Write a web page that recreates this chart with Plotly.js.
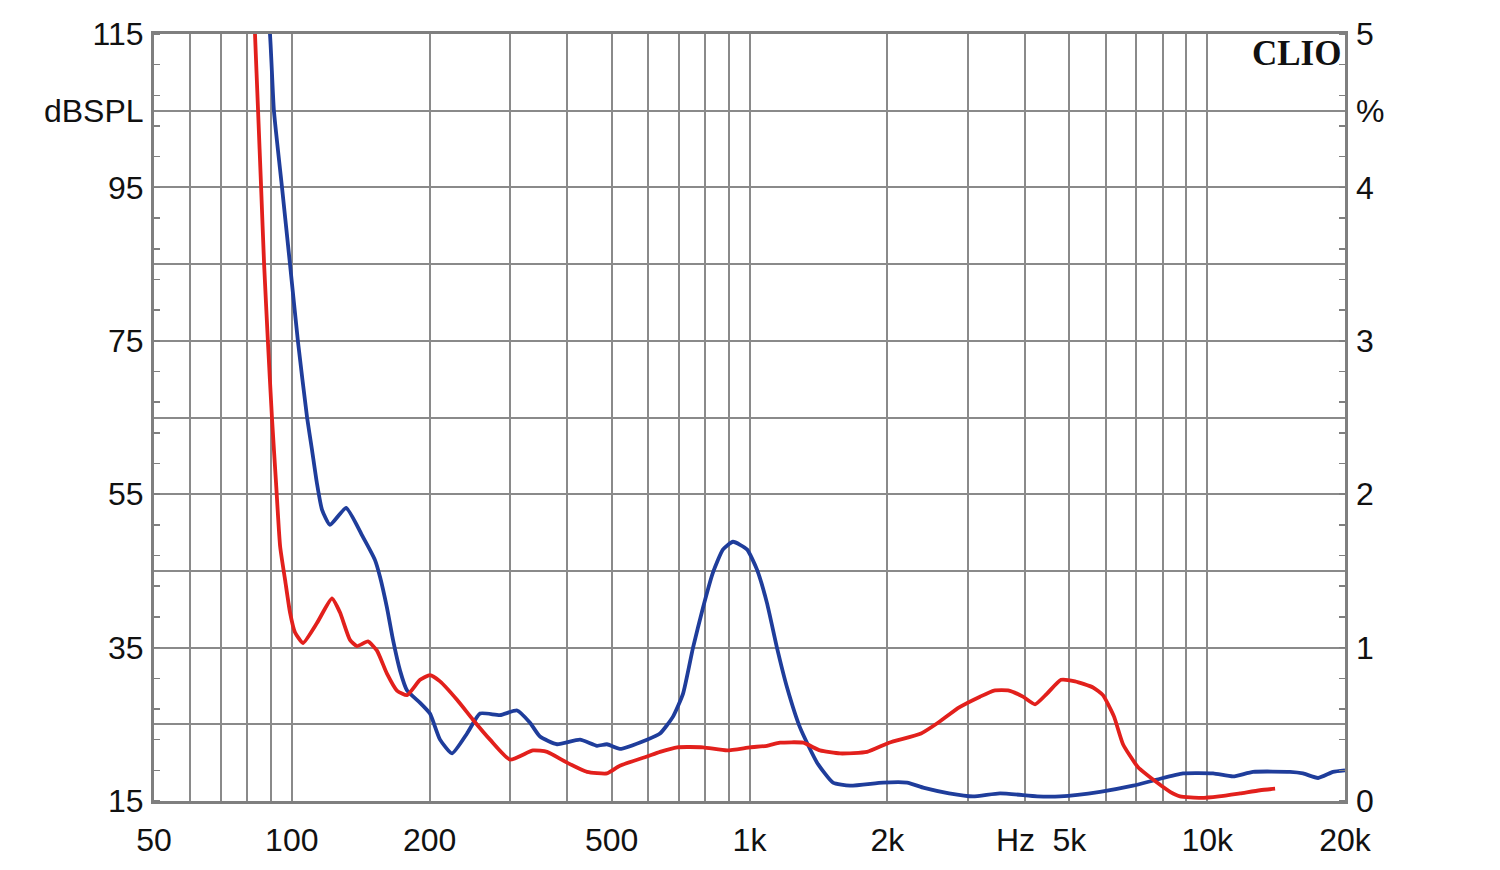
<!DOCTYPE html>
<html>
<head>
<meta charset="utf-8">
<script src="https://cdn.plot.ly/plotly-3.0.1.min.js"></script>
<style>
  html, body { margin: 0; padding: 0; background: #ffffff; }
  #chart { width: 1500px; height: 870px; }
</style>
</head>
<body>
<div id="chart"></div>
<script>
// ---- data (THD in %, right axis; left axis shows the matching dBSPL scale) ----
const blueFreq = [88.7, 89.6, 91.4, 95.2, 99.1, 103.2, 108.0, 110.7, 113.5, 116.4, 121.2, 131.4, 143.1, 152.0, 155.9, 161.4, 166.4, 172.4, 178.6, 190.7, 200.4, 210.8, 223.9, 241.5, 257.8, 285.1, 310.6, 331.5, 348.6, 379.7, 426.2, 464.3, 488.2, 521.0, 597.1, 637.6, 680.6, 715.9, 752.7, 791.4, 832.3, 875.3, 920.4, 987.4, 1038, 1092, 1148, 1208, 1289, 1405, 1522, 1658, 1958, 2209, 2407, 2729, 3078, 3527, 4249, 4770, 5833, 6886, 7770, 8856, 10300, 11390, 12590, 15170, 16190, 17470, 18830, 20000];
const bluePct  = [5.09, 5.00, 4.50, 4.00, 3.50, 2.99, 2.50, 2.29, 2.07, 1.90, 1.80, 1.91, 1.72, 1.57, 1.46, 1.26, 1.05, 0.85, 0.72, 0.64, 0.57, 0.40, 0.31, 0.44, 0.57, 0.56, 0.59, 0.51, 0.42, 0.37, 0.40, 0.36, 0.37, 0.34, 0.40, 0.44, 0.55, 0.70, 1.00, 1.26, 1.49, 1.64, 1.69, 1.64, 1.51, 1.29, 1.00, 0.74, 0.48, 0.25, 0.12, 0.10, 0.12, 0.12, 0.085, 0.05, 0.03, 0.05, 0.03, 0.03, 0.06, 0.10, 0.14, 0.18, 0.18, 0.16, 0.19, 0.19, 0.18, 0.15, 0.19, 0.20];

const redFreq = [82.9, 83.1, 84.4, 85.7, 87.0, 88.7, 90.5, 92.4, 94.3, 96.7, 99.1, 101.6, 105.8, 113.5, 122.4, 127.4, 134.0, 138.8, 146.7, 153.5, 161.4, 169.7, 178.6, 190.7, 200.4, 210.8, 229.6, 248.8, 271.1, 299.8, 336.6, 361.2, 399.4, 441.6, 488.2, 521, 597, 637.6, 694.7, 791.4, 893.2, 1003, 1092, 1166, 1309, 1426, 1577, 1807, 2018, 2370, 2582, 2871, 3189, 3422, 3690, 3958, 4205, 4467, 4793, 5143, 5630, 5918, 6258, 6547, 7063, 7770, 8295, 8721, 9693, 10610, 11800, 13040, 14070];
const redPct  = [5.09, 5.00, 4.50, 4.00, 3.50, 2.99, 2.50, 2.07, 1.66, 1.44, 1.23, 1.10, 1.03, 1.16, 1.32, 1.23, 1.05, 1.01, 1.04, 0.98, 0.83, 0.72, 0.69, 0.79, 0.82, 0.78, 0.66, 0.53, 0.40, 0.27, 0.33, 0.32, 0.25, 0.19, 0.18, 0.23, 0.29, 0.32, 0.35, 0.35, 0.33, 0.35, 0.36, 0.38, 0.38, 0.33, 0.31, 0.32, 0.38, 0.44, 0.51, 0.61, 0.68, 0.72, 0.72, 0.68, 0.63, 0.70, 0.79, 0.78, 0.74, 0.69, 0.55, 0.37, 0.22, 0.12, 0.06, 0.03, 0.02, 0.03, 0.05, 0.07, 0.08];

// ---- axes / tick labels ----
const xGridVals = [50, 60, 70, 80, 90, 100, 200, 300, 400, 500, 600, 700, 800, 900, 1000, 2000, 3000, 4000, 5000, 6000, 7000, 8000, 9000, 10000, 20000];
const xGridText = ['50', '', '', '', '', '100', '200', '', '', '500', '', '', '', '', '1k', '2k', '', '', '5k', '', '', '', '', '10k', '20k'];
const hzLabel = 'Hz';
const hzFreq = 3810;
const pctVals = [0, 0.5, 1, 1.5, 2, 2.5, 3, 3.5, 4, 4.5, 5];
const dbText  = ['15', '', '35', '', '55', '', '75', '', '95', 'dBSPL', '115'];
const pctText = ['0', '', '1', '', '2', '', '3', '', '4', '%', '5'];
const brandText = 'CLIO';

const gridColor = '#8a8a8a';
const frameColor = '#7f7f7f';
const tickFont = { family: 'Liberation Sans, Arial, sans-serif', size: 32, color: '#111111' };

const traces = [
  { x: blueFreq, y: bluePct, type: 'scatter', mode: 'lines', xaxis: 'x', yaxis: 'y',
    line: { color: '#1f3d9b', width: 3.8, shape: 'spline', smoothing: 0.5 }, hoverinfo: 'x+y', showlegend: false },
  { x: redFreq, y: redPct, type: 'scatter', mode: 'lines', xaxis: 'x', yaxis: 'y2',
    line: { color: '#e2201c', width: 3.8, shape: 'spline', smoothing: 0.5 }, hoverinfo: 'x+y', showlegend: false }
];

const layout = {
  width: 1500, height: 870,
  margin: { l: 154, r: 155, t: 34, b: 69, pad: 0 },
  paper_bgcolor: '#ffffff', plot_bgcolor: '#ffffff',
  showlegend: false,
  xaxis: {
    type: 'log', range: [Math.log10(50), Math.log10(20000)],
    tickmode: 'array', tickvals: xGridVals, ticktext: xGridText,
    showgrid: true, gridcolor: gridColor, gridwidth: 2,
    showline: true, mirror: true, linecolor: frameColor, linewidth: 3,
    ticks: '', tickfont: tickFont, ticklabelstandoff: 9,
    zeroline: false, fixedrange: true
  },
  yaxis: {
    range: [0, 5], tickmode: 'array', tickvals: pctVals, ticktext: dbText,
    showgrid: true, gridcolor: gridColor, gridwidth: 2,
    showline: true, mirror: true, linecolor: frameColor, linewidth: 3,
    ticks: '', tickfont: tickFont, ticklabelstandoff: 1,
    minor: { tickmode: 'linear', tick0: 0, dtick: 0.2, ticks: 'inside', ticklen: 6, tickwidth: 1.5, tickcolor: frameColor, showgrid: false },
    zeroline: false, fixedrange: true
  },
  yaxis2: {
    range: [0, 5], overlaying: 'y', side: 'right', anchor: 'x',
    tickmode: 'array', tickvals: pctVals, ticktext: pctText,
    showgrid: false, showline: false,
    ticks: '', tickfont: tickFont, ticklabelstandoff: 10,
    minor: { tickmode: 'linear', tick0: 0, dtick: 0.2, ticks: 'inside', ticklen: 6, tickwidth: 1.5, tickcolor: frameColor, showgrid: false },
    zeroline: false, fixedrange: true
  },
  annotations: [
    { text: brandText, xref: 'paper', yref: 'paper', x: 0.998, y: 1, yshift: 2, xanchor: 'right', yanchor: 'top',
      showarrow: false, font: { family: 'Liberation Serif, Times New Roman, serif', size: 35, color: '#111111', weight: 'bold' } },
    { text: hzLabel, xref: 'x', yref: 'paper', x: Math.log10(hzFreq), y: 0, yshift: -39, xanchor: 'center', yanchor: 'middle',
      showarrow: false, font: tickFont }
  ]
};

Plotly.newPlot('chart', traces, layout, { displayModeBar: false, staticPlot: true });
</script>
</body>
</html>
